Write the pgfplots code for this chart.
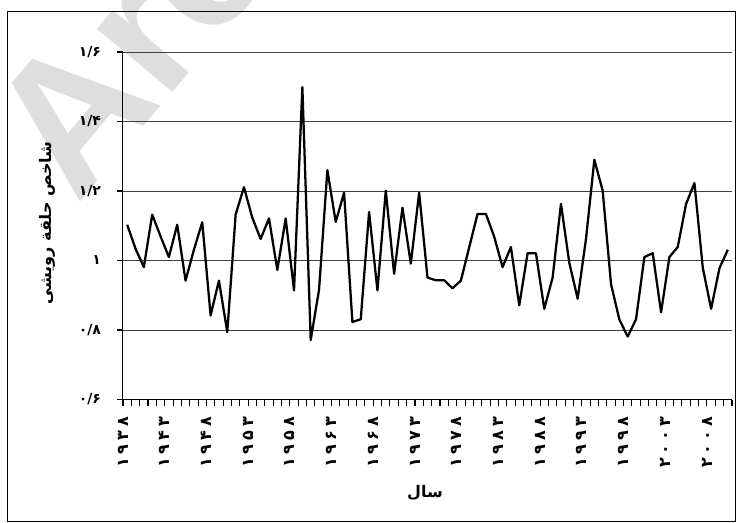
\documentclass[border=0pt]{standalone}
\usepackage{pgfplots}
\pgfplotsset{compat=1.18}
\usepackage{pgfplotstable}
\usepackage{fontspec}
\setmainfont{DejaVu Sans}
\newfontfamily\fa[Script=Arabic]{DejaVu Sans}
\newfontfamily\fasp[Script=Arabic,LetterSpace=25]{DejaVu Sans}
\newfontfamily\wm{Liberation Sans}
\TeXXeTstate=1

\pgfplotstableread{
year v
1938 1.103
1939 1.034
1940 0.981
1941 1.132
1942 1.070
1943 1.010
1944 1.103
1945 0.942
1946 1.031
1947 1.110
1948 0.842
1949 0.942
1950 0.794
1951 1.132
1952 1.211
1953 1.123
1954 1.062
1955 1.121
1956 0.973
1957 1.121
1958 0.914
1959 1.499
1960 0.771
1961 0.916
1962 1.260
1963 1.111
1964 1.195
1965 0.823
1966 0.831
1967 1.140
1968 0.914
1969 1.201
1970 0.962
1971 1.152
1972 0.991
1973 1.195
1974 0.951
1975 0.943
1976 0.943
1977 0.920
1978 0.942
1979 1.038
1980 1.134
1981 1.134
1982 1.068
1983 0.981
1984 1.039
1985 0.871
1986 1.021
1987 1.021
1988 0.861
1989 0.951
1990 1.163
1991 0.993
1992 0.890
1993 1.062
1994 1.290
1995 1.201
1996 0.932
1997 0.830
1998 0.781
1999 0.831
2000 1.010
2001 1.021
2002 0.851
2003 1.010
2004 1.039
2005 1.163
2006 1.223
2007 0.979
2008 0.861
2009 0.978
2010 1.031
}\ringdata

\begin{document}
\begin{tikzpicture}
% watermark (behind everything)
\begin{scope}
\clip (-92.25pt,-91.875pt) rectangle (459.75pt,299.625pt);
\node[rotate=50, anchor=base west, text=black!13, inner sep=0pt,
      font=\wm\bfseries\fontsize{140}{140}\selectfont]
      at (-34pt,145pt) {Archive};
\end{scope}
\begin{axis}[
  at={(0,0)}, anchor=south west,
  scale only axis, width=456.75pt, height=260.625pt,
  xmin=1937.5, xmax=2010.5, ymin=0.6, ymax=1.6,
  axis x line*=bottom, axis y line*=left,
  axis line style={black, line width=0.75pt},
  tick align=outside,
  major tick length=4.5pt,
  tick style={draw=black, line width=0.8pt},
  ytick={0.6,0.8,1,1.2,1.4,1.6},
  yticklabels={۰/۶,۰/۸,۱,۱/۲,۱/۴,۱/۶},
  yticklabel style={font=\fa\bfseries\fontsize{10.5}{12}\selectfont, xshift=-8.5pt},
  ymajorgrids,
  major grid style={draw=black!75, line width=0.75pt},
  xtick={1937.5,1938.5,1939.5,1940.5,1941.5,1942.5,1943.5,1944.5,1945.5,1946.5,
         1947.5,1948.5,1949.5,1950.5,1951.5,1952.5,1953.5,1954.5,1955.5,1956.5,
         1957.5,1958.5,1959.5,1960.5,1961.5,1962.5,1963.5,1964.5,1965.5,1966.5,
         1967.5,1968.5,1969.5,1970.5,1971.5,1972.5,1973.5,1974.5,1975.5,1976.5,
         1977.5,1978.5,1979.5,1980.5,1981.5,1982.5,1983.5,1984.5,1985.5,1986.5,
         1987.5,1988.5,1989.5,1990.5,1991.5,1992.5,1993.5,1994.5,1995.5,1996.5,
         1997.5,1998.5,1999.5,2000.5,2001.5,2002.5,2003.5,2004.5,2005.5,2006.5,
         2007.5,2008.5,2009.5,2010.5},
  xticklabels={۱۹۳۸,{},{},{},{},۱۹۴۳,{},{},{},{},۱۹۴۸,{},{},{},{},
               ۱۹۵۳,{},{},{},{},۱۹۵۸,{},{},{},{},۱۹۶۳,{},{},{},{},
               ۱۹۶۸,{},{},{},{},۱۹۷۳,{},{},{},{},۱۹۷۸,{},{},{},{},
               ۱۹۸۳,{},{},{},{},۱۹۸۸,{},{},{},{},۱۹۹۳,{},{},{},{},
               ۱۹۹۸,{},{},{},{},۲۰۰۳,{},{},{},{},۲۰۰۸,{},{},{}},
  xticklabel style={yshift=-5pt, rotate=90, anchor=east,
        font=\fasp\bfseries\fontsize{12}{14}\selectfont},
  xlabel={\fa\bfseries\beginR سال\endR},
  xlabel style={at={(axis description cs:0.496,-0.269)}, anchor=center,
                font=\fontsize{12}{14}\selectfont},
  ylabel={\fa\bfseries\beginR شاخص حلقة رویشی\endR},
  ylabel style={at={(axis description cs:-0.125,0.508)}, anchor=center,
                rotate=0, font=\fontsize{12}{14}\selectfont},
  clip=false,
]
\addplot[black, line width=1.7pt, line join=round, mark=none] table[x=year, y=v] {\ringdata};
\end{axis}
\draw[black, line width=0.75pt] (-86.25pt,-91.125pt) rectangle (459pt,290.625pt);
\pgfresetboundingbox
\useasboundingbox (-92.25pt,-91.875pt) rectangle (459.75pt,299.625pt);
\end{tikzpicture}
\end{document}
